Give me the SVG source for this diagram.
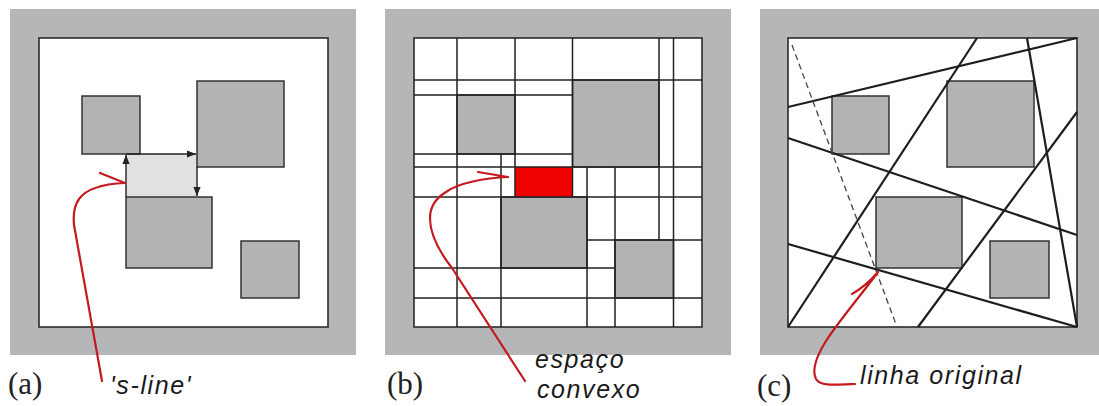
<svg xmlns="http://www.w3.org/2000/svg" width="1099" height="406" viewBox="0 0 1099 406">
<style>
.frame{fill:#b4b6b8}
.inner{fill:#fff;stroke:#2b2b2b;stroke-width:1.6}
.box{fill:#b1b3b5;stroke:#333;stroke-width:1.5}
.free{fill:#dfe1e3}
.sel{fill:#f00000}
.grid{stroke:#222;stroke-width:1.5;fill:none}
.cut{stroke:#1e1e1e;stroke-width:2.2;fill:none}
.dash{stroke:#444;stroke-width:1.3;stroke-dasharray:6 4;fill:none}
.red{stroke:#c41a1f;stroke-width:2.2;fill:none;stroke-linecap:round;stroke-linejoin:round}
.arr{stroke:#222;stroke-width:1.4;fill:none;marker-end:url(#ah)}
.lab{font-family:"Liberation Serif","Times New Roman",serif;font-size:31px;fill:#222}
.note{font-family:"Liberation Sans",Arial,sans-serif;font-style:italic;font-size:25px;letter-spacing:1.6px;fill:#1a1a1a}
</style>
<defs>
<marker id="ah" viewBox="0 0 10 8" refX="10" refY="4" markerWidth="9" markerHeight="7.2" markerUnits="userSpaceOnUse" orient="auto">
<path d="M0,0 L10,4 L0,8 z" fill="#222"/>
</marker>
</defs>
<rect x="0" y="0" width="1099" height="406" fill="#fff"/>

<!-- Panel (a) -->
<g id="panel-a">
<rect class="frame" x="10" y="9" width="346" height="346"/>
<rect class="inner" x="39" y="38" width="289" height="289"/>
<rect class="free" x="126" y="154" width="71" height="43"/>
<g id="a-box1"><rect class="box" x="82" y="96" width="58" height="58"/></g>
<g id="a-box2"><rect class="box" x="197" y="81" width="87" height="86"/></g>
<g id="a-box3"><rect class="box" x="126" y="197" width="86" height="71"/></g>
<g id="a-box4"><rect class="box" x="241" y="241" width="58" height="57"/></g>
</g>

<!-- Panel (b) -->
<g id="panel-b">
<rect class="frame" x="385" y="9" width="346" height="346"/>
<rect class="inner" x="414" y="38" width="288" height="289"/>
<g id="b-box1"><rect class="box" x="457" y="95" width="58" height="59"/></g>
<g id="b-box2"><rect class="box" x="572.5" y="80" width="86.5" height="87"/></g>
<g id="b-box3"><rect class="box" x="501" y="197" width="86" height="71"/></g>
<g id="b-box4"><rect class="box" x="615" y="240" width="58.5" height="58"/></g>
<g id="b-convex"><rect class="sel" x="515" y="167" width="57.5" height="30"/></g>
</g>

<!-- Panel (c) -->
<g id="panel-c">
<rect class="frame" x="760" y="9" width="339" height="346"/>
<rect class="inner" x="788" y="38" width="289" height="289"/>
<g id="c-box1"><rect class="box" x="832" y="96" width="57" height="58"/></g>
<g id="c-box2"><rect class="box" x="947" y="81" width="87" height="86"/></g>
<g id="c-box3"><rect class="box" x="876" y="197" width="86" height="71"/></g>
<g id="c-box4"><rect class="box" x="990" y="241" width="59" height="57"/></g>
</g>

<g id="connectors">
<!-- (a) s-line arrows -->
<path class="arr" d="M126,197 L126,155"/>
<path class="arr" d="M126,154 L196,154"/>
<path class="arr" d="M197,167 L197,196"/>
<!-- (b) grid -->
<g class="grid">
<path d="M457,38 V327 M501,154 V327 M515,38 V197 M572.5,38 V197 M587,167 V327 M615,167 V327 M659,38 V240 M673.5,38 V327"/>
<path d="M414,80 H702 M414,95 H572.5 M414,154 H572.5 M414,167 H702 M414,197 H702 M587,240 H702 M414,268 H615 M414,298 H702"/>
</g>
<!-- (c) lines -->
<g class="cut">
<path d="M788,107 L1077,38"/>
<path d="M788,327 L977,38"/>
<path d="M1027,38 L1077,327"/>
<path d="M788,138 L1077,235"/>
<path d="M1077,112 L918,327"/>
<path d="M788,244 L1077,327"/>
</g>
<path class="dash" d="M792,45 L897,327"/>
<!-- red pointers -->
<path class="red" d="M100,173 L125,183 C102,184 86,189 79,199 C74,206 73,214 74,225 L102,381"/>
<path class="red" d="M478,172 L508,177 C485,178 458,183 446,192 C433,200 430,210 430,218 C430,232 438,250 452,268 L525,381"/>
<path class="red" d="M852,294 Q866,286 878,272 C865,290 838,322 826,341 C816,357 812,371 816,379 C820,386 832,385 855,384"/>
</g>

<g id="labels">
<text class="lab" x="8" y="394">(a)</text>
<text class="lab" x="387" y="394">(b)</text>
<text class="lab" x="757" y="396">(c)</text>
<text class="note" x="110" y="394">'s-line'</text>
<text class="note" x="535" y="368">espaço</text>
<text class="note" x="537" y="398">convexo</text>
<text class="note" x="860" y="384">linha original</text>
</g>
</svg>
